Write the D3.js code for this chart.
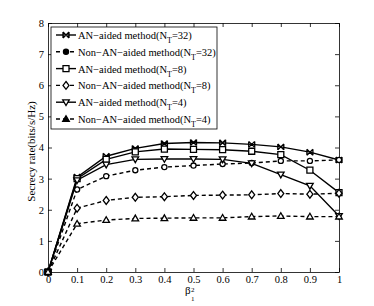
<!DOCTYPE html>
<html>
<head>
<meta charset="utf-8">
<script src="https://cdn.jsdelivr.net/npm/d3@7"></script>
<style>
  body { margin: 0; background: #fff; }
  svg { display: block; }
  text { font-family: "Liberation Serif", "Times New Roman", serif; fill: #000; }
  .axis path, .axis line { stroke: #000; stroke-width: 0.8; }
</style>
</head>
<body>
<div></div>
<script>
// data
var beta = [0, 0.1, 0.2, 0.3, 0.4, 0.5, 0.6, 0.7, 0.8, 0.9, 1.0];

var an32    = [0, 3.05, 3.72, 3.97, 4.13, 4.16, 4.15, 4.10, 4.02, 3.85, 3.60];
var nonAn32 = [0, 2.65, 3.08, 3.27, 3.37, 3.42, 3.47, 3.50, 3.57, 3.57, 3.60];
var an8     = [0, 3.00, 3.62, 3.86, 3.95, 3.94, 3.93, 3.88, 3.77, 3.27, 2.55];
var nonAn8  = [0, 2.05, 2.30, 2.40, 2.42, 2.46, 2.47, 2.48, 2.52, 2.50, 2.53];
var an4     = [0, 2.95, 3.45, 3.62, 3.63, 3.63, 3.62, 3.49, 3.13, 2.77, 1.80];
var nonAn4  = [0, 1.55, 1.67, 1.72, 1.73, 1.74, 1.74, 1.78, 1.80, 1.78, 1.78];

var legendNames = [
  ["AN\u2212aided method(N", "T", "=32)"],
  ["Non\u2212AN\u2212aided method(N", "T", "=32)"],
  ["AN\u2212aided method(N", "T", "=8)"],
  ["Non\u2212AN\u2212aided method(N", "T", "=8)"],
  ["AN\u2212aided method(N", "T", "=4)"],
  ["Non\u2212AN\u2212aided method(N", "T", "=4)"]
];

var xTicks = [0, 0.1, 0.2, 0.3, 0.4, 0.5, 0.6, 0.7, 0.8, 0.9, 1];
var yTicks = [0, 1, 2, 3, 4, 5, 6, 7, 8];

var series = [
  {values: an32,    marker: "x",   dashed: false},
  {values: nonAn32, marker: "o",   dashed: true},
  {values: an8,     marker: "s",   dashed: false},
  {values: nonAn8,  marker: "d",   dashed: true},
  {values: an4,     marker: "v",   dashed: false},
  {values: nonAn4,  marker: "^",   dashed: true}
];

// set the dimensions and margins of the graph
var margin = {top: 23, right: 35, bottom: 34, left: 48},
    width = 374 - margin.left - margin.right,
    height = 306 - margin.top - margin.bottom;

var x = d3.scaleLinear().domain([0, 1]).range([0, width]);
var y = d3.scaleLinear().domain([0, 8]).range([height, 0]);

var svg = d3.select("body").select("div").append("svg")
    .attr("width", 374)
    .attr("height", 306)
  .append("g")
    .attr("transform", "translate(" + margin.left + "," + margin.top + ")");

// axes, ticks pointing inward on all four sides
svg.append("g")
    .attr("class", "axis")
    .attr("transform", "translate(0," + height + ")")
    .call(d3.axisBottom(x).tickValues(xTicks).tickSizeInner(-4).tickSizeOuter(0).tickPadding(4)
      .tickFormat(function(d) { return d === 0 || d === 1 ? d3.format("d")(d) : d3.format(".1f")(d); }));

svg.append("g")
    .attr("class", "axis")
    .call(d3.axisTop(x).tickValues(xTicks).tickSizeInner(-4).tickSizeOuter(0).tickFormat(""));

svg.append("g")
    .attr("class", "axis")
    .call(d3.axisLeft(y).tickValues(yTicks).tickSizeInner(-4).tickSizeOuter(0).tickPadding(4));

svg.append("g")
    .attr("class", "axis")
    .attr("transform", "translate(" + width + ",0)")
    .call(d3.axisRight(y).tickValues(yTicks).tickSizeInner(-4).tickSizeOuter(0).tickFormat(""));

svg.selectAll(".axis text").style("font-size", "10.5px").style("font-family", "Liberation Serif, serif");

// markers
function markerPath(type, s) {
  var p;
  switch (type) {
    case "x":
      return "M" + (-s) + "," + (-s) + "L" + s + "," + s + "M" + (-s) + "," + s + "L" + s + "," + (-s) +
             "M" + (-s) + "," + (-s) + "L" + (-s) + "," + s + "M" + s + "," + (-s) + "L" + s + "," + s;
    case "o":
      p = d3.path(); p.arc(0, 0, s * 0.85, 0, 2 * Math.PI); return p.toString();
    case "s":
      return "M" + (-s) + "," + (-s) + "H" + s + "V" + s + "H" + (-s) + "Z";
    case "d":
      return "M0," + (-s * 1.3) + "L" + s + ",0L0," + (s * 1.3) + "L" + (-s) + ",0Z";
    case "v":
      return "M" + (-s * 1.1) + "," + (-s * 0.8) + "H" + (s * 1.1) + "L0," + (s * 1.1) + "Z";
    case "^":
      return "M" + (-s * 1.1) + "," + (s * 0.8) + "H" + (s * 1.1) + "L0," + (-s * 1.1) + "Z";
  }
}

var line = d3.line()
    .x(function(d, i) { return x(beta[i]); })
    .y(function(d) { return y(d); });

series.forEach(function(s) {
  svg.append("path")
      .datum(s.values)
      .attr("fill", "none")
      .attr("stroke", "#000")
      .attr("stroke-width", 1.4)
      .attr("stroke-dasharray", s.dashed ? "4,3" : null)
      .attr("d", line);

  svg.selectAll(null)
      .data(s.values)
    .enter().append("path")
      .attr("transform", function(d, i) { return "translate(" + x(beta[i]) + "," + y(d) + ")"; })
      .attr("d", markerPath(s.marker, 3))
      .attr("fill", s.marker === "x" ? "none" : "#fff")
      .attr("stroke", "#000")
      .attr("stroke-width", 1.3);
});

// legend
var lg = svg.append("g").attr("transform", "translate(3,4)");
lg.append("rect")
    .attr("width", 166)
    .attr("height", 102)
    .attr("fill", "#fff")
    .attr("stroke", "#000")
    .attr("stroke-width", 0.8);

legendNames.forEach(function(n, i) {
  var row = lg.append("g").attr("transform", "translate(0," + (8 + i * 16.8) + ")");
  row.append("line")
      .attr("x1", 5).attr("x2", 25)
      .attr("stroke", "#000").attr("stroke-width", 1.4)
      .attr("stroke-dasharray", series[i].dashed ? "4,3" : null);
  row.append("path")
      .attr("transform", "translate(15,0)")
      .attr("d", markerPath(series[i].marker, 3))
      .attr("fill", (series[i].marker === "o" || series[i].marker === "^") ? "#000" : (series[i].marker === "x" ? "none" : "#fff"))
      .attr("stroke", "#000")
      .attr("stroke-width", 1.3);
  var t = row.append("text")
      .attr("x", 27)
      .attr("y", 4)
      .style("font-size", "10.5px");
  t.append("tspan").text(n[0]);
  t.append("tspan").attr("dy", 4).style("font-size", "8px").text(n[1]);
  t.append("tspan").attr("dy", -4).text(n[2]);
});

// axis labels
svg.append("text")
    .attr("transform", "translate(" + (-13) + "," + (height / 2 + 4) + ") rotate(-90)")
    .attr("text-anchor", "middle")
    .style("font-size", "11px")
    .text("Secrecy rate(bits/s/Hz)");

var xl = svg.append("g").attr("transform", "translate(" + (width / 2 - 8.5) + "," + (height + 22) + ")");
xl.append("text").attr("x", 0).attr("y", 0).style("font-size", "11px").text("\u03b2");
xl.append("text").attr("x", 6).attr("y", -2).style("font-size", "7px").text("2");
xl.append("text").attr("x", 6).attr("y", 7).style("font-size", "7px").text("1");
</script>
</body>
</html>
